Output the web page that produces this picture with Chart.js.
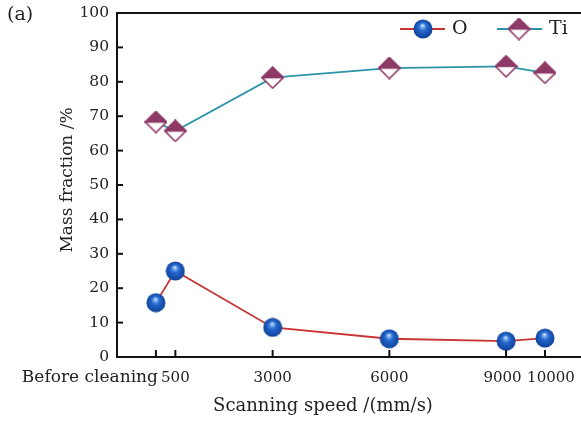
<!DOCTYPE html>
<html>
<head>
<meta charset="utf-8">
<script src="https://cdn.jsdelivr.net/npm/chart.js@4/dist/chart.umd.min.js"></script>
<style>
html,body{margin:0;padding:0;background:#fff;overflow:hidden;}
#wrap{width:581px;height:421px;position:relative;}
</style>
</head>
<body>
<div id="wrap"><canvas id="c" width="581" height="421"></canvas></div>
<script>
// ---- data ----
const speeds = [0, 500, 3000, 6000, 9000, 10000];
const speedLabels = ['Before cleaning', '500', '3000', '6000', '9000', '10000'];
const oValues = [15.8, 25.0, 8.6, 5.3, 4.6, 5.5];
const tiValues = [68.3, 65.7, 81.2, 84.0, 84.5, 82.6];
const yTicks = [0, 10, 20, 30, 40, 50, 60, 70, 80, 90, 100];

const FONT = '"DejaVu Serif", "Liberation Serif", serif';
const MAROON = '#8e3a66';
const RED = '#c83434';
const TEAL = '#2a95a6';

function makeSphere(d) {
  const c = document.createElement('canvas');
  c.width = d; c.height = d;
  const g = c.getContext('2d');
  const r = d / 2;
  const grad = g.createRadialGradient(r * 0.95, r * 0.62, 0, r, r, r);
  grad.addColorStop(0, '#f4f8ff');
  grad.addColorStop(0.15, '#80b2ef');
  grad.addColorStop(0.42, '#2567cc');
  grad.addColorStop(0.85, '#124aa6');
  grad.addColorStop(1, '#0b3a86');
  g.fillStyle = grad;
  g.beginPath(); g.arc(r, r, r - 0.5, 0, Math.PI * 2); g.fill();
  return c;
}
function makeDiamond(d) {
  const c = document.createElement('canvas');
  c.width = d; c.height = d;
  const g = c.getContext('2d');
  const h = d / 2, e = 1;
  g.beginPath();
  g.moveTo(h, e); g.lineTo(d - e, h); g.lineTo(h, d - e); g.lineTo(e, h); g.closePath();
  g.fillStyle = '#fff'; g.fill();
  g.lineWidth = 1.6; g.strokeStyle = MAROON; g.stroke();
  g.beginPath();
  g.moveTo(h, e); g.lineTo(d - e, h); g.lineTo(e, h); g.closePath();
  g.fillStyle = MAROON; g.fill(); g.stroke();
  return c;
}
const sphere = makeSphere(20);
const diamond = makeDiamond(23);

const decor = {
  id: 'decor',
  afterDraw(chart) {
    const ctx = chart.ctx;
    const a = chart.chartArea;
    const xs = chart.scales.x, ys = chart.scales.y;
    ctx.save();
    // top border
    ctx.strokeStyle = '#111'; ctx.lineWidth = 2;
    ctx.beginPath(); ctx.moveTo(a.left - 1, a.top); ctx.lineTo(chart.width, a.top); ctx.stroke();
    // y ticks inward
    ctx.lineWidth = 2;
    yTicks.forEach(v => {
      const y = ys.getPixelForValue(v);
      ctx.beginPath(); ctx.moveTo(a.left, y); ctx.lineTo(a.left + 6, y); ctx.stroke();
    });
    // x ticks inward
    speeds.forEach(v => {
      const x = xs.getPixelForValue(v);
      ctx.beginPath(); ctx.moveTo(x, a.bottom); ctx.lineTo(x, a.bottom - 7); ctx.stroke();
    });
    // x tick labels
    ctx.fillStyle = '#222';
    ctx.textBaseline = 'middle';
    const n = speeds.length;
    speeds.forEach((v, i) => {
      const x = xs.getPixelForValue(v);
      if (i === 0) { ctx.font = '17px ' + FONT; ctx.textAlign = 'right'; ctx.fillText(speedLabels[i], x + 2, 378); }
      else {
        // nudge the two crowded right-most labels apart
        const nudge = i === n - 2 ? -3.5 : (i === n - 1 ? 6 : 0);
        ctx.font = '15px ' + FONT; ctx.textAlign = 'center'; ctx.fillText(speedLabels[i], x + nudge, 378);
      }
    });
    // axis titles
    ctx.font = '18px ' + FONT;
    ctx.textAlign = 'center';
    ctx.fillText('Scanning speed /(mm/s)', 323, 406);
    ctx.save();
    ctx.translate(68, 180); ctx.rotate(-Math.PI / 2);
    ctx.font = '17px ' + FONT;
    ctx.fillText('Mass fraction /%', 0, 0);
    ctx.restore();
    // panel label
    ctx.font = '19px ' + FONT;
    ctx.textAlign = 'left';
    ctx.fillText('(a)', 7, 15);
    // legend
    const ly = 29;
    ctx.lineWidth = 2;
    ctx.strokeStyle = RED;
    ctx.beginPath(); ctx.moveTo(400, ly); ctx.lineTo(445, ly); ctx.stroke();
    ctx.drawImage(sphere, 423 - 10, ly - 10);
    ctx.strokeStyle = TEAL;
    ctx.beginPath(); ctx.moveTo(497, ly); ctx.lineTo(542, ly); ctx.stroke();
    ctx.drawImage(diamond, 519 - 11.5, ly - 11.5);
    ctx.fillStyle = '#222';
    ctx.font = '19px ' + FONT;
    ctx.textAlign = 'left';
    ctx.fillText('O', 452, ly);
    ctx.fillText('Ti', 549, ly);
    ctx.restore();
  }
};

new Chart(document.getElementById('c'), {
  type: 'line',
  data: {
    datasets: [
      {
        label: 'O',
        data: speeds.map((s, i) => ({ x: s, y: oValues[i] })),
        borderColor: RED, borderWidth: 1.8,
        pointStyle: sphere, pointRadius: 10, pointHoverRadius: 10,
        tension: 0, clip: false
      },
      {
        label: 'Ti',
        data: speeds.map((s, i) => ({ x: s, y: tiValues[i] })),
        borderColor: TEAL, borderWidth: 1.8,
        pointStyle: diamond, pointRadius: 11, pointHoverRadius: 11,
        tension: 0, clip: false
      }
    ]
  },
  options: {
    responsive: false,
    animation: false,
    events: [],
    layout: { autoPadding: false, padding: { top: 13, right: 1, left: 0, bottom: 0 } },
    plugins: { legend: { display: false }, tooltip: { enabled: false } },
    scales: {
      x: {
        type: 'linear', min: -1000, max: 10900,
        grid: { display: false },
        border: { display: true, width: 2, color: '#111' },
        ticks: { display: false },
        afterFit(s) { s.height = 64; s.paddingLeft = 0; s.paddingRight = 0; }
      },
      y: {
        min: 0, max: 100,
        grid: { display: false, drawTicks: false },
        border: { display: true, width: 2, color: '#111' },
        ticks: { stepSize: 10, padding: 8, color: '#222', font: { family: FONT, size: 15.5 } },
        afterFit(s) { s.width = 117; s.paddingTop = 0; s.paddingBottom = 0; }
      }
    }
  },
  plugins: [decor]
});
</script>
</body>
</html>
